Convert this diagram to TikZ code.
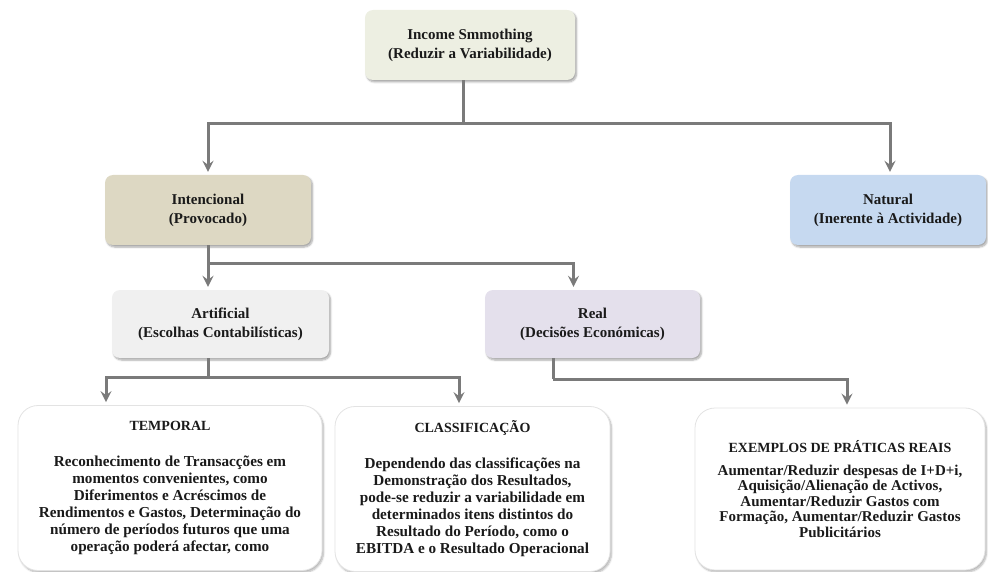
\documentclass[tikz,border=0pt]{standalone}
\usepackage{fontspec}
\setmainfont{Liberation Serif}
\usetikzlibrary{arrows.meta,shadows.blur,calc}
\definecolor{topc}{HTML}{EDEFE2}
\definecolor{intc}{HTML}{DDD8C3}
\definecolor{natc}{HTML}{C6D9F0}
\definecolor{artc}{HTML}{F0F0F0}
\definecolor{realc}{HTML}{E4E0EC}
\definecolor{linec}{HTML}{7A7A7A}
\definecolor{txtc}{HTML}{1A1A1A}
\newcommand{\bodyfont}{\fontsize{15.2}{17}\selectfont}
\newcommand{\titlefont}{\fontsize{14}{17}\selectfont}
\begin{document}
\begin{tikzpicture}[x=1pt,y=-1pt,
  box/.style={rounded corners=8pt, align=center, inner sep=0pt, text=txtc,
    font=\bfseries\fontsize{15}{19}\selectfont,
    blur shadow={shadow xshift=1.5pt, shadow yshift=-2pt, shadow blur steps=6, shadow opacity=35}},
  bigbox/.style={rounded corners=20pt, fill=white, draw=gray!22, line width=0.8pt,
    align=center, inner sep=0pt, text=txtc,
    blur shadow={shadow xshift=1.5pt, shadow yshift=-2pt, shadow blur steps=6, shadow opacity=30}},
  conn/.style={draw=linec, line width=3pt},
  arr/.style={conn, -{Stealth[length=11pt,width=11pt,inset=4pt]}, shorten >=3pt}]
\useasboundingbox (0,0) rectangle (988,572);

\node[box, fill=topc, minimum width=210pt, minimum height=70pt] (top) at (470,45)
  {Income Smmothing\\(Reduzir a Variabilidade)};
\node[box, fill=intc, minimum width=206pt, minimum height=70pt] (intenc) at (208,210)
  {Intencional\\(Provocado)};
\node[box, fill=natc, minimum width=196pt, minimum height=70pt] (natural) at (888,210)
  {Natural\\(Inerente à Actividade)};
\node[box, fill=artc, minimum width=217pt, minimum height=68pt] (artif) at (220.5,324)
  {Artificial\\(Escolhas Contabilísticas)};
\node[box, fill=realc, minimum width=215pt, minimum height=68pt] (real) at (592.5,324)
  {Real\\(Decisões Económicas)};

\node[bigbox, minimum width=304pt, minimum height=165pt,
  font=\bfseries\bodyfont] (temporal) at (170,488)
  {{\titlefont TEMPORAL}\\[19pt]
   Reconhecimento de Transacções em\\
   momentos convenientes, como\\
   Diferimentos e Acréscimos de\\
   Rendimentos e Gastos, Determinação do\\
   número de períodos futuros que uma\\
   operação poderá afectar, como};
\node[bigbox, minimum width=275pt, minimum height=165pt,
  font=\bfseries\bodyfont] (classif) at (472.5,489)
  {{\titlefont CLASSIFICAÇÃO}\\[19pt]
   Dependendo das classificações na\\
   Demonstração dos Resultados,\\
   pode-se reduzir a variabilidade em\\
   determinados itens distintos do\\
   Resultado do Período, como o\\
   EBITDA e o Resultado Operacional};
\node[bigbox, minimum width=290pt, minimum height=162pt,
  font=\bfseries\fontsize{15}{15.5}\selectfont] (exemplos) at (840,489)
  {{\titlefont EXEMPLOS DE PRÁTICAS REAIS}\\[7pt]
   Aumentar/Reduzir despesas de I+D+i,\\
   Aquisição/Alienação de Activos,\\
   Aumentar/Reduzir Gastos com\\
   Formação, Aumentar/Reduzir Gastos\\
   Publicitários};

% connectors
\coordinate (j1) at ($(top.south)+(-7,43)$);
\draw[conn] ([xshift=-7pt]top.south) -- (j1);
\draw[arr] (j1) -| (intenc.north);
\draw[arr] (j1) -| ([xshift=2pt]natural.north);

\coordinate (j2) at ($(intenc.south)+(0,18)$);
\coordinate (realin) at ([xshift=-19pt]real.north);
\draw[conn] (intenc.south) -- (j2);
\draw[arr] (j2) -- (j2 |- artif.north);
\draw[arr] (j2) -| (realin);

\coordinate (a3) at (j2 |- artif.south);
\coordinate (j3) at ($(a3)+(0,19)$);
\coordinate (tempin) at ([xshift=-64pt]temporal.north);
\coordinate (classin) at ([xshift=-13.5pt]classif.north);
\draw[conn] (a3) -- (j3);
\draw[arr] (j3) -| (tempin);
\draw[arr] (j3) -| (classin);

\coordinate (r3) at ([xshift=-39.5pt]real.south);
\coordinate (j4) at ($(r3)+(0,21)$);
\coordinate (exin) at ([xshift=7pt]exemplos.north);
\draw[conn] (r3) -- (j4);
\draw[arr] (j4) -| (exin);
\end{tikzpicture}
\end{document}
